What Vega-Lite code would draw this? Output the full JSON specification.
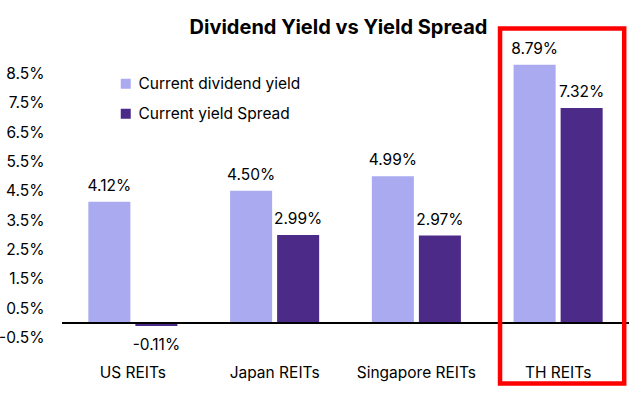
{
  "$schema": "https://vega.github.io/schema/vega-lite/v6.json",
  "width": 567,
  "height": 308,
  "autosize": "none",
  "padding": {"left": 62, "top": 44, "right": 14, "bottom": 45},
  "background": "white",
  "config": {
    "view": {"stroke": null},
    "font": "Inter",
    "axis": {"labelOverlap": false},
    "locale": {"number": {"decimal": ".", "thousands": ",", "grouping": [3], "currency": ["$", ""], "minus": "-"}}
  },
  "title": {
    "text": "Dividend Yield vs Yield Spread",
    "fontSize": 20,
    "fontWeight": "bold",
    "font": "Inter",
    "color": "#000000",
    "anchor": "middle",
    "dx": -7,
    "offset": -12
  },
  "datasets": {
    "bars": [
      {"category": "US REITs", "series": "Current dividend yield", "value": 0.0412},
      {"category": "US REITs", "series": "Current yield Spread", "value": -0.0011},
      {"category": "Japan REITs", "series": "Current dividend yield", "value": 0.045},
      {"category": "Japan REITs", "series": "Current yield Spread", "value": 0.0299},
      {"category": "Singapore REITs", "series": "Current dividend yield", "value": 0.0499},
      {"category": "Singapore REITs", "series": "Current yield Spread", "value": 0.0297},
      {"category": "TH REITs", "series": "Current dividend yield", "value": 0.0879},
      {"category": "TH REITs", "series": "Current yield Spread", "value": 0.0732}
    ],
    "highlight": [{"category": "TH REITs"}]
  },
  "encoding": {
    "x": {
      "field": "category",
      "type": "nominal",
      "scale": {"domain": ["US REITs", "Japan REITs", "Singapore REITs", "TH REITs"], "paddingInner": 0, "paddingOuter": 0},
      "axis": {"title": null, "labelAngle": 0, "domain": false, "ticks": false, "labelPadding": 13, "labelFontSize": 15.5, "labelColor": "#000000", "labelFont": "Inter"}
    }
  },
  "layer": [
    {
      "data": {"name": "bars"},
      "mark": {"type": "bar"},
      "encoding": {
        "xOffset": {
          "field": "series",
          "type": "nominal",
          "scale": {"paddingInner": 0.106, "paddingOuter": 0.56}
        },
        "y": {
          "field": "value",
          "type": "quantitative",
          "scale": {"domain": [-0.01, 0.095], "nice": false, "zero": false},
          "axis": {
            "title": null,
            "values": [-0.005, 0.005, 0.015, 0.025, 0.035, 0.045, 0.055, 0.065, 0.075, 0.085],
            "tickCount": 20,
            "format": ".1%",
            "domain": false,
            "ticks": false,
            "grid": false,
            "labelOverlap": false,
            "labelPadding": 18,
            "labelFontSize": 15.5,
            "labelColor": "#000000",
            "labelFont": "Inter"
          }
        },
        "color": {
          "field": "series",
          "type": "nominal",
          "scale": {"domain": ["Current dividend yield", "Current yield Spread"], "range": ["#aaaaf0", "#4b2a88"]},
          "legend": {
            "title": null,
            "orient": "none",
            "legendX": 56,
            "legendY": 32,
            "symbolType": "square",
            "symbolSize": 100,
            "symbolStrokeWidth": 0,
            "labelFontSize": 15.5,
            "labelFont": "Inter",
            "labelColor": "#000000",
            "labelOffset": 5,
            "labelLimit": 400,
            "rowPadding": 13,
            "padding": 0
          }
        }
      }
    },
    {
      "data": {"name": "bars"},
      "transform": [{"filter": "datum.value >= 0"}],
      "mark": {"type": "text", "baseline": "middle", "dy": -16, "fontSize": 15.5, "font": "Inter", "color": "#000000"},
      "encoding": {
        "xOffset": {"field": "series", "type": "nominal"},
        "y": {"field": "value", "type": "quantitative"},
        "text": {"field": "value", "type": "quantitative", "format": ".2%"}
      }
    },
    {
      "data": {"name": "bars"},
      "transform": [{"filter": "datum.value < 0"}],
      "mark": {"type": "text", "baseline": "middle", "dy": 19, "fontSize": 15.5, "font": "Inter", "color": "#000000"},
      "encoding": {
        "xOffset": {"field": "series", "type": "nominal"},
        "y": {"field": "value", "type": "quantitative"},
        "text": {"field": "value", "type": "quantitative", "format": ".2%"}
      }
    },
    {
      "data": {"name": "bars"},
      "mark": {"type": "rule", "color": "#000000", "strokeWidth": 1.5},
      "encoding": {"y": {"datum": 0}, "x": null}
    },
    {
      "data": {"name": "highlight"},
      "mark": {"type": "bar", "width": {"band": 0.876}, "xOffset": 4, "fillOpacity": 0, "stroke": "#ff0000", "strokeWidth": 4.5},
      "encoding": {
        "y": {"datum": 0.1003},
        "y2": {"datum": -0.0207}
      }
    }
  ]
}
